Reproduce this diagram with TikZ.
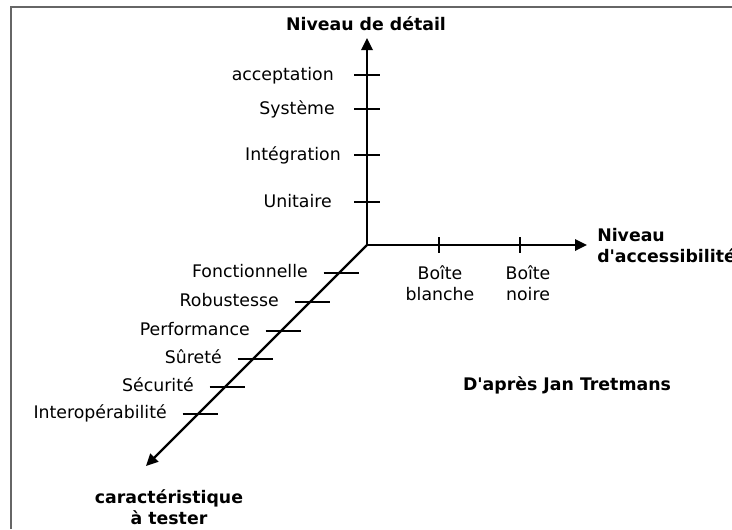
\documentclass[tikz,border=0pt]{standalone}
\usepackage{fontspec}
\setmainfont{DejaVu Sans}
\usetikzlibrary{arrows.meta,positioning}

\definecolor{framegray}{gray}{0.4}

\begin{document}
\begin{tikzpicture}[x=0.75pt,y=-0.75pt,>={Triangle[length=9pt,width=8.5pt]},
  axis/.style={line width=1.7pt},
  tick/.style={line width=1.5pt},
  lbl/.style={font=\fontsize{13}{15.75}\selectfont,inner sep=0pt},
  title/.style={font=\fontsize{13}{15.75}\selectfont\bfseries,inner sep=0pt}]

  \useasboundingbox (0,0) rectangle (732,529);
  \draw[framegray,line width=1.2pt] (11,529) -- (11,7) -- (732,7);

  \coordinate (O) at (367,245);
  \coordinate (top) at (367,38);
  \coordinate (right) at (587,245);
  \coordinate (bottom) at (146,466);

  \draw[axis,->] (O) -- (top);
  \draw[axis,->] (O) -- (right);
  \draw[axis,->] (O) -- (bottom);

  % niveau de detail
  \foreach \y/\x/\txt [count=\i] in {75/334/acceptation,109/335/Système,
      155/341/Intégration,202/332/Unitaire} {
    \draw[tick] (354,\y) -- (380,\y);
    \node[lbl,anchor=base east] (v\i) at (\x,\y+5.5) {\txt};
  }

  % niveau d'accessibilite
  \draw[tick] (439,237) -- (439,253);
  \draw[tick] (520,237) -- (520,253);
  \node[lbl,align=center] (blanche) at (440,283) {Boîte\\blanche};
  \node[lbl,align=center] (noire) at (528,283) {Boîte\\noire};

  % caracteristique
  \foreach \y/\txt [count=\i] in {273/Fonctionnelle,302/Robustesse,331/Performance,
      359/Sûreté,387/Sécurité,414/Interopérabilité} {
    \pgfmathsetmacro\cx{369-(\y-245)}
    \draw[tick] (\cx-17.5,\y) -- (\cx+17.5,\y);
    \node[lbl,anchor=base east] (c\i) at (\cx-33,\y+4.5) {\txt};
  }

  \node[title,anchor=base] (detail) at (366,30) {Niveau de détail};
  \node[title,align=left,anchor=north west] (acces) at (597,228) {Niveau\\d\textquotesingle accessibilité};
  \node[title,align=center] (carac) at (169,507) {caractéristique\\à tester};
  \node[title] (source) at (567,385) {D\textquotesingle après Jan Tretmans};
\end{tikzpicture}
\end{document}
